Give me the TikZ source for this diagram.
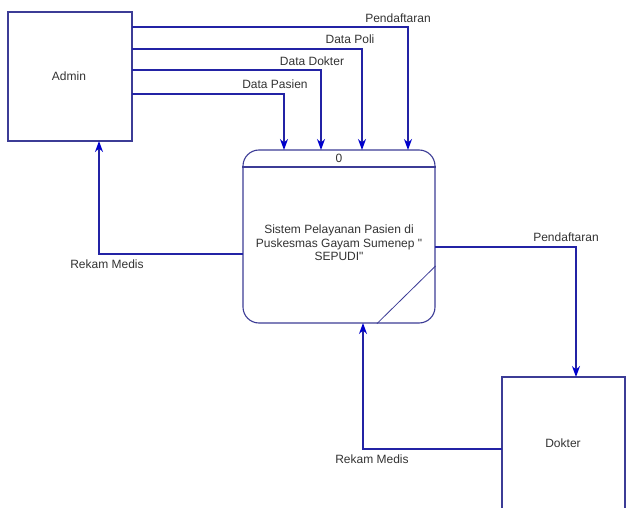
\documentclass[tikz,border=0pt]{standalone}
\usepackage{fontspec}
\setmainfont{Liberation Sans}
\usetikzlibrary{arrows.meta,calc}
\definecolor{boxcol}{RGB}{60,60,150}
\definecolor{flowcol}{RGB}{35,35,165}
\definecolor{tipcol}{RGB}{0,0,205}
\begin{document}
\begin{tikzpicture}[x=1pt,y=-1pt,
  entity/.style={draw=boxcol,line width=1.1pt,fill=white,inner sep=0pt},
  flow/.style={draw=flowcol,line width=1.2pt,-{Stealth[length=11pt,width=8pt,inset=3.5pt,color=tipcol]}},
  lbl/.style={font=\fontsize{12}{14}\selectfont,text=black!80,inner sep=0pt},
  ptext/.style={font=\fontsize{12}{13.5}\selectfont,text=black!80,align=center,inner sep=0pt}]
\useasboundingbox (0,0) rectangle (627,508);
\fill[white] (0,0) rectangle (627,508);
% entities
\node[entity,minimum width=124pt,minimum height=129pt] (admin) at (70,76.5) {};
\node[lbl] (admintxt) at (69,76) {Admin};
\node[entity,minimum width=123pt,minimum height=137pt] (dokter) at (563.5,445.5) {};
\node[lbl] (doktertxt) at (563,443) {Dokter};
% process
\node[entity,rounded corners=16pt,minimum width=192pt,minimum height=173pt] (proc) at (339,236.5) {};
\draw[boxcol,line width=1.1pt] (proc.west |- 0,167) -- (proc.east |- 0,167);
\draw[boxcol,line width=0.8pt] (proc.east |- 0,266) -- (proc.south -| 377,0);
\node[lbl] (pnum) at (339,158) {0};
\node[ptext] (ptxt) at (339,243) {Sistem Pelayanan Pasien di\\Puskesmas Gayam Sumenep \textquotedbl\\SEPUDI\textquotedbl};
% flows from Admin
\coordinate (a1) at (132,27);
\coordinate (a2) at (132,49);
\coordinate (a3) at (132,70);
\coordinate (a4) at (132,94);
\coordinate (p1) at (408,150);
\coordinate (p2) at (362,150);
\coordinate (p3) at (321,150);
\coordinate (p4) at (284,150);
\draw[flow] (a1) -| (p1);
\draw[flow] (a2) -| (p2);
\draw[flow] (a3) -| (p3);
\draw[flow] (a4) -| (p4);
\node[lbl] (l1) at (398,18) {Pendaftaran};
\node[lbl] (l2) at (350,39) {Data Poli};
\node[lbl] (l3) at (312,61) {Data Dokter};
\node[lbl] (l4) at (275,84) {Data Pasien};
% Rekam Medis to Admin
\coordinate (r1) at (243,254);
\coordinate (r1e) at (99,141);
\draw[flow] (r1) -| (r1e);
\node[lbl] (l5) at (107,264) {Rekam Medis};
% Pendaftaran to Dokter
\coordinate (d1) at (435,247);
\coordinate (d1e) at (576,377);
\draw[flow] (d1) -| (d1e);
\node[lbl] (l6) at (566,237) {Pendaftaran};
% Rekam Medis from Dokter
\coordinate (k1) at (502,449);
\coordinate (k1e) at (363,323);
\draw[flow] (k1) -| (k1e);
\node[lbl] (l7) at (372,459) {Rekam Medis};
\end{tikzpicture}
\end{document}
